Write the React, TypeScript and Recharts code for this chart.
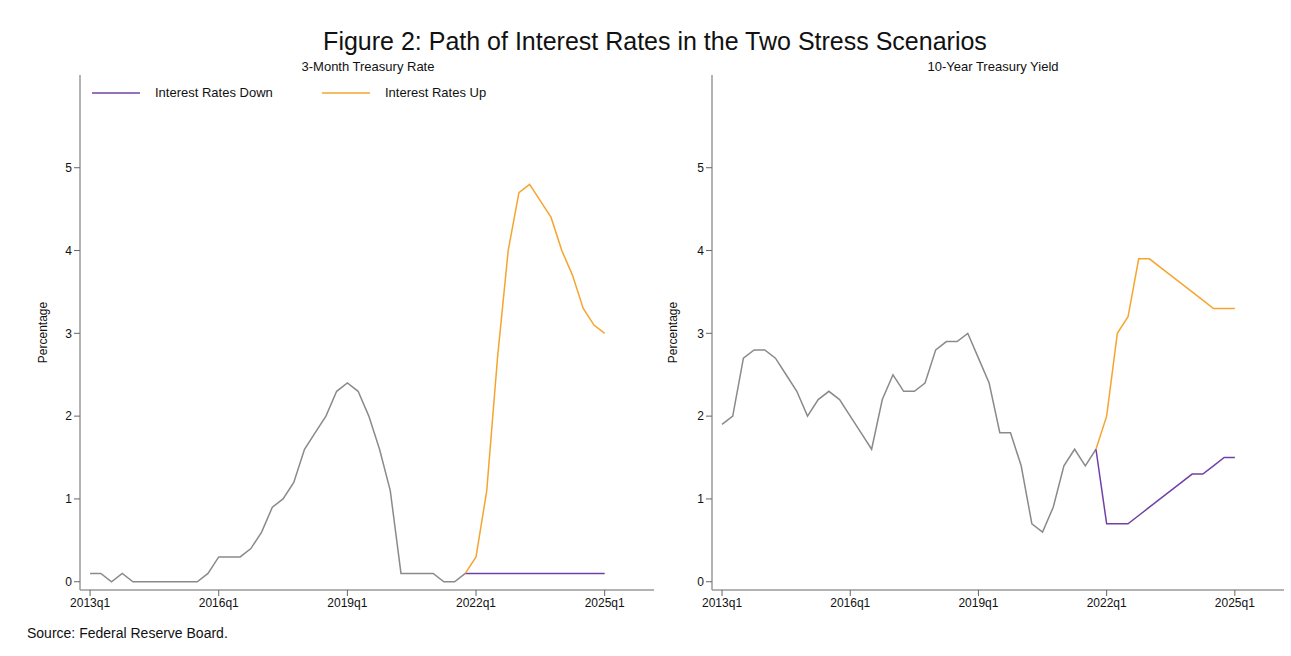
import React from "react";
import { Label, Legend, Line, LineChart, XAxis, YAxis } from "recharts";

// quarter index 0 = 2013q1 ... 48 = 2025q1
const tickQuarters = [0, 12, 24, 36, 48];
const tickLabels = ["2013q1", "2016q1", "2019q1", "2022q1", "2025q1"];
const yTicks = [0, 1, 2, 3, 4, 5];

// history runs 2013q1..2021q4 (index 0..35), scenarios 2021q4..2025q1 (35..48)
const histEnd = 35;

const threeMonthHist = [
  0.1, 0.1, 0, 0.1, 0, 0, 0, 0, 0, 0, 0, 0.1, 0.3, 0.3, 0.3, 0.4, 0.6, 0.9,
  1.0, 1.2, 1.6, 1.8, 2.0, 2.3, 2.4, 2.3, 2.0, 1.6, 1.1, 0.1, 0.1, 0.1, 0.1, 0,
  0, 0.1,
];
const threeMonthDown = [
  0.1, 0.1, 0.1, 0.1, 0.1, 0.1, 0.1, 0.1, 0.1, 0.1, 0.1, 0.1, 0.1, 0.1,
];
const threeMonthUp = [
  0.1, 0.3, 1.1, 2.7, 4.0, 4.7, 4.8, 4.6, 4.4, 4.0, 3.7, 3.3, 3.1, 3.0,
];

const tenYearHist = [
  1.9, 2.0, 2.7, 2.8, 2.8, 2.7, 2.5, 2.3, 2.0, 2.2, 2.3, 2.2, 2.0, 1.8, 1.6,
  2.2, 2.5, 2.3, 2.3, 2.4, 2.8, 2.9, 2.9, 3.0, 2.7, 2.4, 1.8, 1.8, 1.4, 0.7,
  0.6, 0.9, 1.4, 1.6, 1.4, 1.6,
];
const tenYearDown = [
  1.6, 0.7, 0.7, 0.7, 0.8, 0.9, 1.0, 1.1, 1.2, 1.3, 1.3, 1.4, 1.5, 1.5,
];
const tenYearUp = [
  1.6, 2.0, 3.0, 3.2, 3.9, 3.9, 3.8, 3.7, 3.6, 3.5, 3.4, 3.3, 3.3, 3.3,
];

const buildRows = (hist: number[], down: number[], up: number[]) => {
  const rows: any[] = [];
  for (let i = 0; i <= histEnd + down.length - 1; i++) {
    rows.push({
      i,
      hist: i <= histEnd ? hist[i] : null,
      down: i >= histEnd ? down[i - histEnd] : null,
      up: i >= histEnd ? up[i - histEnd] : null,
    });
  }
  return rows;
};

const FONT = '"Liberation Sans", Arial, sans-serif';
const AXIS = "#9a9a9a";
const GRAY = "#8a8a8a";
const PURPLE = "#7040a8";
const ORANGE = "#f5a52e";

const tickStyle = { fontSize: 12, fill: "#111", fontFamily: FONT };

const LegendBox = () => (
  <div style={{ display: "flex", fontFamily: FONT, fontSize: 13, color: "#111" }}>
    {[
      { name: "Interest Rates Down", color: PURPLE },
      { name: "Interest Rates Up", color: ORANGE },
    ].map((it) => (
      <div key={it.name} style={{ display: "flex", alignItems: "center", width: 230 }}>
        <svg width={48} height={10} style={{ marginRight: 15 }}>
          <line x1={0} y1={5} x2={48} y2={5} stroke={it.color} strokeWidth={1.5} />
        </svg>
        <span>{it.name}</span>
      </div>
    ))}
  </div>
);

interface PanelProps {
  rows: any[];
  width: number;
  marginLeft: number;
  marginRight: number;
  labelOffset: number;
  showLegend?: boolean;
}

function Panel({ rows, width, marginLeft, marginRight, labelOffset, showLegend }: PanelProps) {
  return (
    <LineChart
      width={width}
      height={656}
      data={rows}
      margin={{ top: 75, right: marginRight, bottom: 36, left: marginLeft }}
    >
      <XAxis
        dataKey="i"
        type="number"
        domain={[-0.94, 52.6]}
        allowDataOverflow
        ticks={tickQuarters}
        tickFormatter={(v: number) => tickLabels[tickQuarters.indexOf(v)]}
        height={30}
        tick={tickStyle}
        tickSize={6}
        axisLine={{ stroke: AXIS, strokeWidth: 1.5 }}
        tickLine={{ stroke: "#666" }}
      />
      <YAxis
        type="number"
        domain={[-0.1, 6.12]}
        allowDataOverflow
        ticks={yTicks}
        width={40}
        tick={tickStyle}
        tickSize={6}
        axisLine={{ stroke: AXIS, strokeWidth: 1.5 }}
        tickLine={{ stroke: "#666" }}
      >
        <Label
          value="Percentage"
          angle={-90}
          position="insideLeft"
          offset={labelOffset}
          style={{ textAnchor: "middle", fontSize: 12, fill: "#111", fontFamily: FONT }}
        />
      </YAxis>
      {showLegend && (
        <Legend
          verticalAlign="middle"
          align="center"
          content={() => <LegendBox />}
          wrapperStyle={{ top: 85, left: 92, width: 500 }}
        />
      )}
      <Line
        dataKey="hist"
        stroke={GRAY}
        strokeWidth={1.5}
        dot={false}
        legendType="none"
        isAnimationActive={false}
      />
      <Line
        dataKey="down"
        name="Interest Rates Down"
        stroke={PURPLE}
        strokeWidth={1.5}
        dot={false}
        isAnimationActive={false}
      />
      <Line
        dataKey="up"
        name="Interest Rates Up"
        stroke={ORANGE}
        strokeWidth={1.5}
        dot={false}
        isAnimationActive={false}
      />
    </LineChart>
  );
}

export default function App() {
  const leftRows = buildRows(threeMonthHist, threeMonthDown, threeMonthUp);
  const rightRows = buildRows(tenYearHist, tenYearDown, tenYearUp);
  return (
    <div
      style={{
        position: "absolute",
        left: 0,
        top: 0,
        width: 1291,
        height: 656,
        background: "#fff",
        fontFamily: FONT,
        color: "#111",
      }}
    >
      <div
        style={{
          position: "absolute",
          top: 26,
          left: 0,
          width: 1310,
          textAlign: "center",
          fontSize: 25,
          lineHeight: "30px",
        }}
      >
        Figure 2: Path of Interest Rates in the Two Stress Scenarios
      </div>
      <div style={{ position: "absolute", left: 0, top: 0 }}>
        <Panel rows={leftRows} width={660} marginLeft={40} marginRight={6} labelOffset={3} showLegend />
      </div>
      <div style={{ position: "absolute", left: 640, top: 0 }}>
        <Panel rows={rightRows} width={651} marginLeft={32} marginRight={7} labelOffset={1} />
      </div>
      <div style={{ position: "absolute", top: 59, left: 268, width: 200, textAlign: "center", fontSize: 13 }}>
        3-Month Treasury Rate
      </div>
      <div style={{ position: "absolute", top: 59, left: 893, width: 200, textAlign: "center", fontSize: 13 }}>
        10-Year Treasury Yield
      </div>
      <div style={{ position: "absolute", top: 625, left: 27, fontSize: 14 }}>
        Source: Federal Reserve Board.
      </div>
    </div>
  );
}
